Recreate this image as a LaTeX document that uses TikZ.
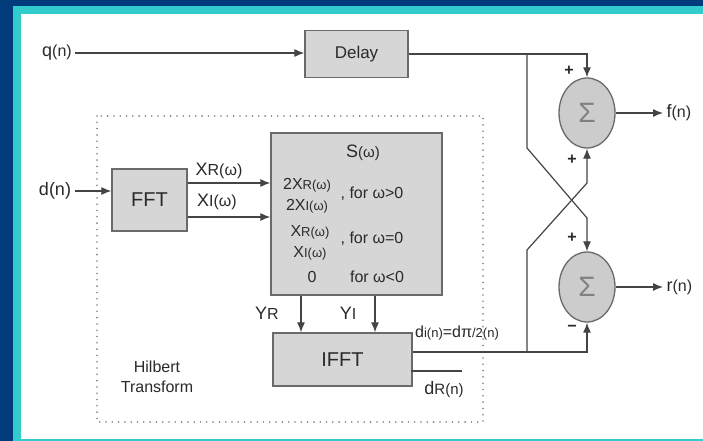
\documentclass[tikz,border=0pt]{standalone}
\usepackage{fontspec}
\setmainfont{Liberation Sans}
\usepackage{tikz}
\usetikzlibrary{arrows.meta,positioning,shapes.geometric}
\definecolor{deepblue}{HTML}{013B7C}
\definecolor{framecyan}{HTML}{33CCCC}
\definecolor{boxgray}{HTML}{D6D6D6}
\definecolor{sumgray}{HTML}{CCCCCC}
\definecolor{edgegray}{HTML}{6A6A6A}
\definecolor{wiregray}{HTML}{444444}
\definecolor{inkgray}{HTML}{2A2A2A}
\newcommand{\lo}[2][13]{{\fontsize{#1}{#1}\selectfont #2}}

\begin{document}
\begin{tikzpicture}[x=1pt, y=-1pt,
    every node/.style={text=inkgray, font=\fontsize{18}{21}\selectfont},
    block/.style={draw=edgegray, line width=1.3pt, fill=boxgray, inner sep=0pt},
    adder/.style={ellipse, draw=edgegray, line width=1.3pt, fill=sumgray, inner sep=0pt,
                  minimum width=56pt, minimum height=70pt, text=gray,
                  font=\fontsize{28}{28}\selectfont},
    wire/.style={draw=wiregray, line width=1.2pt},
    arrow/.style={wire, -{Latex[length=10pt, width=8pt]}},
    sign/.style={font=\bfseries\fontsize{16}{16}\selectfont},
    dotbox/.style={draw=gray, line width=1.8pt, dash pattern=on 0pt off 6.3pt, line cap=round},
    big/.style={font=\fontsize{20}{24}\selectfont},
    mid/.style={font=\fontsize{16}{20}\selectfont}
]
    \useasboundingbox (0,0) rectangle (703,441);
    \fill[deepblue] (0,0) rectangle (703,441);
    \fill[framecyan] (13,6) rectangle (703,441);
    \fill[white] (21,14) rectangle (703,439);

    \draw[dotbox] (97,116) rectangle (483,422);

    \node (qn) at (57,53) {q\lo[16]{(n)}};
    \node[block, font=\fontsize{17}{20}\selectfont, minimum width=103pt, minimum height=47pt] (delay) at (356.5,54) {Delay};
    \node[adder] (sumf) at (587,113) {Σ};
    \node[adder] (sumr) at (587,287) {Σ};
    \node (dn) at (55,191) {d(n)};
    \node[block, big, minimum width=75pt, minimum height=62pt] (fft) at (149.5,200) {FFT};
    \node[block, minimum width=171pt, minimum height=162pt] (sbox) at (356.5,214) {};
    \node[block, big, minimum width=139pt, minimum height=53pt] (ifft) at (342.5,359.5) {IFFT};

    \node (stitle) at (363,153) {S\lo[15]{(ω)}};
    \node[mid] (sa1) at (307,185) {2X\lo{R(ω)}};
    \node[mid] (sa2) at (307,206) {2X\lo{I(ω)}};
    \node[mid] (sa3) at (372,194) {, for ω>0};
    \node[mid] (sb1) at (310,232) {X\lo{R(ω)}};
    \node[mid] (sb2) at (310,253) {X\lo{I(ω)}};
    \node[mid] (sb3) at (372,239) {, for ω=0};
    \node[mid] (sc1) at (312,277) {0};
    \node[mid] (sc3) at (377,277) {for ω<0};

    \node (xr) at (219,171) {X\lo[16]{R(ω)}};
    \node (xi) at (217,202) {X\lo[16]{I(ω)}};
    \node (yr) at (267,313) {Y\lo[16]{R}};
    \node (yi) at (348,313) {Y\lo[16]{I}};
    \node[mid] (dilab) at (457,333) {d\lo{i(n)}=dπ\lo{/2(n)}};
    \node (drlab) at (444,390) {d\lo[15]{R(n)}};
    \node[mid, align=center] (hilbert) at (157,377) {Hilbert\\Transform};

    \node[sign] (pl1) at (569,71) {+};
    \node[sign] (pl2) at (572,160) {+};
    \node[sign] (pl3) at (572,238) {+};
    \node[sign] (mn1) at (572,328) {−};

    \coordinate (fend) at (663,113);
    \coordinate (rend) at (663,287);
    \node[right=0pt of fend] (fn) {f\lo[16]{(n)}};
    \node[right=0pt of rend] (rn) {r\lo[16]{(n)}};

    \coordinate (kq) at (527,54);
    \coordinate (kqbend) at (527,148);
    \coordinate (kqcross) at (587,218);
    \coordinate (ki) at (527,352);
    \coordinate (kibend) at (527,250);
    \coordinate (kicross) at (587,183);
    \coordinate (drend) at (462,371);

    \draw[arrow] (qn.east) -- (qn.east -| delay.west);
    \draw[arrow] (delay.east) -| (sumf.north);
    \draw[arrow] (kq) -- (kqbend) -- (kqcross) -- (sumr.north);
    \draw[arrow] (dn.east) -- (dn.east -| fft.west);
    \draw[arrow] ([yshift=17pt]fft.east) -- ([yshift=17pt]fft.east -| sbox.west);
    \draw[arrow] ([yshift=-17pt]fft.east) -- ([yshift=-17pt]fft.east -| sbox.west);
    \draw[arrow] ([xshift=-55.5pt]sbox.south) -- ([xshift=-55.5pt]sbox.south |- ifft.north);
    \draw[arrow] ([xshift=18.5pt]sbox.south) -- ([xshift=18.5pt]sbox.south |- ifft.north);
    \draw[arrow] ([yshift=7.5pt]ifft.east) -| (sumr.south);
    \draw[arrow] (ki) -- (kibend) -- (kicross) -- (sumf.south);
    \draw[wire] ([xshift=-2pt]ifft.east |- drend) -- (drend);
    \draw[arrow] (sumf) -- (fend);
    \draw[arrow] (sumr) -- (rend);
\end{tikzpicture}
\end{document}
